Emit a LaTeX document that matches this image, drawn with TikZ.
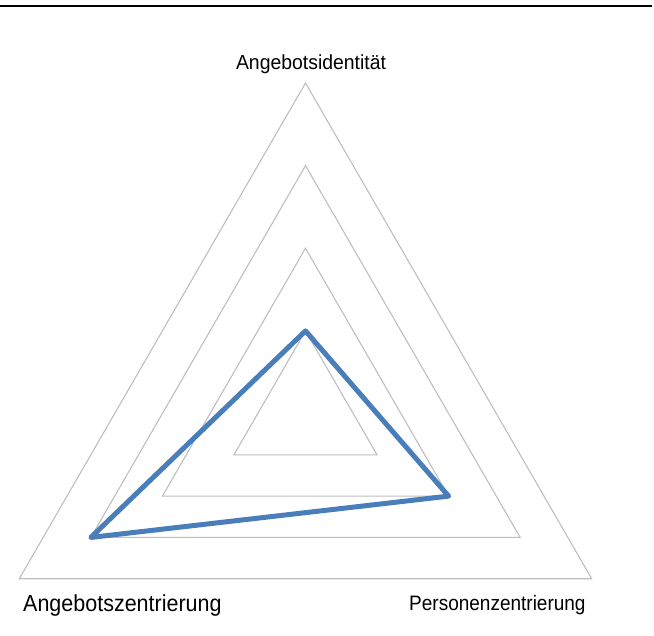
\documentclass[tikz,border=0pt]{standalone}
\usepackage{fontspec}
\setmainfont{Liberation Sans}
\usetikzlibrary{calc}
\definecolor{gridgray}{HTML}{BEBEBE}
\definecolor{seriesblue}{HTML}{4A7EBB}
\begin{document}
\begin{tikzpicture}[x=1pt,y=-1pt,
  gridline/.style={draw=gridgray,line width=1.1pt,line join=miter},
  series/.style={draw=seriesblue,line width=5pt,line join=round},
  axislabel/.style={inner sep=0pt,text=black}]
\useasboundingbox (0,0) rectangle (654,636);
% rule at the top
\draw[line width=2.4pt] (0,6.2) -- (651.5,6.2);
% chart centre and radius (y grows downwards here)
\def\cx{305.5}\def\cy{413.5}\def\R{330.5}
\coordinate (c) at (\cx,\cy);
% grid triangles at 1/4 .. 4/4 of the radius
\foreach \k in {1,2,3,4}{
  \draw[gridline] ($(c)+(0,-\k*\R/4)$) -- ($(c)+(0.8660*\k*\R/4,0.5*\k*\R/4)$)
     -- ($(c)+(-0.8660*\k*\R/4,0.5*\k*\R/4)$) -- cycle;
}
% data series: 1, 2, 3 of 4
\coordinate (pA) at ($(c)+(0,-\R/4)$);
\coordinate (pP) at ($(c)+(0.8660*2*\R/4,0.5*2*\R/4)$);
\coordinate (pZ) at ($(c)+(-0.8660*3*\R/4,0.5*3*\R/4)$);
\draw[series] (pA) -- (pP) -- (pZ) -- cycle;
% axis labels
\node[axislabel,anchor=base] (lA) at (311,70) {\fontsize{19.4}{23}\selectfont\scalebox{1}[1.05]{Angebotsidentität}};
\node[axislabel,anchor=base west] (lZ) at (23,611.5) {\fontsize{21.5}{25}\selectfont\scalebox{1}[1.08]{Angebotszentrierung}};
\node[axislabel,anchor=base west] (lP) at (409,610) {\fontsize{19}{23}\selectfont\scalebox{1}[1.1]{Personenzentrierung}};
\end{tikzpicture}
\end{document}
